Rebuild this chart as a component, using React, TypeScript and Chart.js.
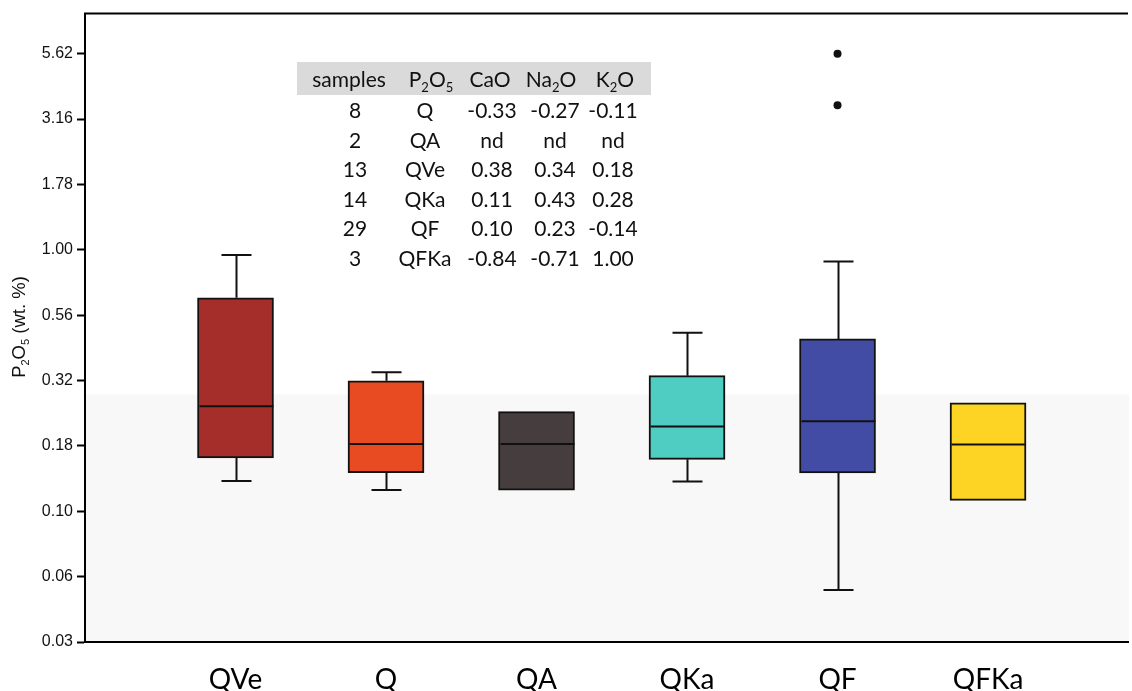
import React, { useEffect, useRef } from 'react';
import { Chart, registerables } from 'chart.js';

Chart.register(...registerables);

// ---------- chart data ----------
const categories = ['QVe', 'Q', 'QA', 'QKa', 'QF', 'QFKa'];
const categoryPositions = [1, 2, 3, 4, 5, 6];
const whiskerLow = [0.1305, 0.1205, 0.1205, 0.13, 0.05, 0.11];
const quartile1 = [0.16, 0.1406, 0.1205, 0.158, 0.14, 0.11];
const medians = [0.252, 0.1806, 0.1806, 0.211, 0.221, 0.18];
const quartile3 = [0.655, 0.3155, 0.2405, 0.33, 0.456, 0.26];
const whiskerHigh = [0.955, 0.34, 0.2405, 0.481, 0.901, 0.26];
const boxColors = ['#a52e2b', '#e84b22', '#463d3e', '#4fcdc3', '#424ca5', '#fed424'];
const outlierPositions = [5, 5];
const outlierValues = [5.62, 3.57];
const shadeThreshold = 0.28;

const yTickValues = [0.03162, 0.05623, 0.1, 0.1778, 0.3162, 0.5623, 1, 1.778, 3.162, 5.623];
const yTickLabels = ['0.03', '0.06', '0.10', '0.18', '0.32', '0.56', '1.00', '1.78', '3.16', '5.62'];
const yMin = 0.03162;
const yMax = 8;
const xMin = 0;
const xMax = 6.93;

// ---------- table data ----------
const sampleCounts = ['8', '2', '13', '14', '29', '3'];
const groupNames = ['Q', 'QA', 'QVe', 'QKa', 'QF', 'QFKa'];
const caoCorr = ['-0.33', 'nd', '0.38', '0.11', '0.10', '-0.84'];
const na2oCorr = ['-0.27', 'nd', '0.34', '0.43', '0.23', '-0.71'];
const k2oCorr = ['-0.11', 'nd', '0.18', '0.28', '-0.14', '1.00'];

// ---------- layout ----------
const W = 1132;
const H = 691;
const BOX_W = 76;
const CAP_W = 30;
const TABLE_FONT = 'Lato, "Open Sans", sans-serif';
const rowCenters = [355, 425, 492, 555, 613];
const headerCenters = [349, 431, 490, 551, 615];
const headerTop = 64;
const rowTop0 = 95;
const rowStep = 29.5;

const boxPlugin = {
  id: 'boxExtras',
  beforeDatasetsDraw(chart: any) {
    const { ctx, chartArea, scales } = chart;
    const y = scales.y;
    const yt = y.getPixelForValue(shadeThreshold);
    ctx.save();
    ctx.fillStyle = '#f8f8f8';
    ctx.fillRect(chartArea.left + 1, yt, chartArea.right - chartArea.left, chartArea.bottom - yt - 1);
    ctx.restore();
  },
  afterDatasetsDraw(chart: any) {
    const { ctx, chartArea, scales } = chart;
    const x = scales.x;
    const y = scales.y;
    ctx.save();
    ctx.strokeStyle = '#111';
    ctx.lineWidth = 2;
    categoryPositions.forEach((pos, i) => {
      const cx = Math.round(x.getPixelForValue(pos)) + 0.5;
      const yMed = y.getPixelForValue(medians[i]);
      const yQ1 = y.getPixelForValue(quartile1[i]);
      const yQ3 = y.getPixelForValue(quartile3[i]);
      const yLo = y.getPixelForValue(whiskerLow[i]);
      const yHi = y.getPixelForValue(whiskerHigh[i]);
      ctx.beginPath();
      ctx.moveTo(cx - BOX_W / 2 + 1, yMed);
      ctx.lineTo(cx + BOX_W / 2 - 1, yMed);
      ctx.stroke();
      if (Math.abs(yHi - yQ3) > 0.5) {
        ctx.beginPath();
        ctx.moveTo(cx, yQ3);
        ctx.lineTo(cx, yHi);
        ctx.moveTo(cx - CAP_W / 2, yHi);
        ctx.lineTo(cx + CAP_W / 2, yHi);
        ctx.stroke();
      }
      if (Math.abs(yLo - yQ1) > 0.5) {
        ctx.beginPath();
        ctx.moveTo(cx, yQ1);
        ctx.lineTo(cx, yLo);
        ctx.moveTo(cx - CAP_W / 2, yLo);
        ctx.lineTo(cx + CAP_W / 2, yLo);
        ctx.stroke();
      }
    });
    // top frame line
    ctx.strokeStyle = '#000';
    ctx.beginPath();
    ctx.moveTo(chartArea.left - 1, chartArea.top);
    ctx.lineTo(chartArea.right, chartArea.top);
    ctx.stroke();
    ctx.restore();
  },
};

function Sub({ children }: { children: React.ReactNode }) {
  return (
    <span style={{ fontSize: 13, position: 'relative', top: 5 }}>{children}</span>
  );
}

function Cell({ cx, top, children }: { cx: number; top: number; children: React.ReactNode }) {
  return (
    <div
      style={{
        position: 'absolute',
        left: cx,
        top,
        transform: 'translateX(-50%)',
        whiteSpace: 'nowrap',
        lineHeight: '30px',
        height: 30,
      }}
    >
      {children}
    </div>
  );
}

export default function App() {
  const canvasRef = useRef<HTMLCanvasElement | null>(null);

  useEffect(() => {
    document.body.style.margin = '0';
    const canvas = canvasRef.current;
    if (!canvas) return;
    const chart = new Chart(canvas, {
      type: 'bar',
      data: {
        datasets: [
          {
            type: 'bar',
            data: categoryPositions.map((p, i) => ({ x: p, y: [quartile1[i], quartile3[i]] })) as any,
            backgroundColor: boxColors,
            borderColor: '#111',
            borderWidth: 2,
            borderSkipped: false,
            barThickness: BOX_W,
          } as any,
          {
            type: 'scatter',
            data: outlierPositions.map((p, i) => ({ x: p, y: outlierValues[i] })),
            pointRadius: 4,
            pointBackgroundColor: '#111',
            pointBorderWidth: 0,
            showLine: false,
          } as any,
        ],
      },
      options: {
        responsive: false,
        animation: false,
        events: [],
        layout: { padding: { top: 12, right: 0, bottom: 0, left: 0 } },
        plugins: {
          legend: { display: false },
          tooltip: { enabled: false },
        },
        scales: {
          x: {
            type: 'linear',
            min: xMin,
            max: xMax,
            offset: false,
            grid: { display: true, drawOnChartArea: false, drawTicks: false },
            border: { display: true, color: '#000', width: 2 },
            afterBuildTicks: (s: any) => {
              s.ticks = categoryPositions.map((v) => ({ value: v }));
            },
            afterFit: (s: any) => {
              s.height = 49;
            },
            ticks: {
              autoSkip: false,
              maxRotation: 0,
              padding: 21,
              color: '#000',
              font: { family: 'Lato, "Open Sans", sans-serif', size: 28 },
              callback: (v: any) => {
                const idx = categoryPositions.indexOf(Number(v));
                return idx >= 0 ? categories[idx] : '';
              },
            },
          },
          y: {
            type: 'logarithmic',
            min: yMin,
            max: yMax,
            grid: {
              display: true,
              drawOnChartArea: false,
              drawTicks: true,
              tickLength: 8,
              tickWidth: 2,
              tickColor: '#000',
            },
            border: { display: true, color: '#000', width: 2 },
            afterBuildTicks: (s: any) => {
              s.ticks = yTickValues.map((v) => ({ value: v }));
            },
            afterFit: (s: any) => {
              s.width = 85;
            },
            ticks: {
              autoSkip: false,
              padding: 4,
              color: '#111',
              font: { family: '"Liberation Sans", Arial, sans-serif', size: 16 },
              callback: (_v: any, index: number) => yTickLabels[index],
            },
          },
        },
      },
      plugins: [boxPlugin],
    } as any);
    return () => chart.destroy();
  }, []);

  const rows = sampleCounts.map((_, i) => [sampleCounts[i], groupNames[i], caoCorr[i], na2oCorr[i], k2oCorr[i]]);

  return (
    <div style={{ position: 'absolute', left: 0, top: 0, width: W, height: H, overflow: 'hidden', background: '#fff' }}>
      <canvas ref={canvasRef} width={W} height={H} style={{ width: W, height: H, display: 'block' }} />
      <div
        style={{
          position: 'absolute',
          left: 19,
          top: 327,
          transform: 'translate(-50%, -50%) rotate(-90deg)',
          whiteSpace: 'nowrap',
          fontFamily: '"Liberation Sans", Arial, sans-serif',
          fontSize: 18.5,
          color: '#111',
        }}
      >
        P<span style={{ fontSize: 11, position: 'relative', top: 4 }}>2</span>O
        <span style={{ fontSize: 11, position: 'relative', top: 4 }}>5</span> (wt. %)
      </div>
      <div style={{ position: 'absolute', left: 0, top: 0, width: W, height: H, fontFamily: TABLE_FONT, fontSize: 21, color: '#111', pointerEvents: 'none' }}>
        <div style={{ position: 'absolute', left: 297, top: 62, width: 354, height: 33, background: '#dadada' }} />
        <Cell cx={headerCenters[0]} top={headerTop}>samples</Cell>
        <Cell cx={headerCenters[1]} top={headerTop}>
          P<Sub>2</Sub>O<Sub>5</Sub>
        </Cell>
        <Cell cx={headerCenters[2]} top={headerTop}>CaO</Cell>
        <Cell cx={headerCenters[3]} top={headerTop}>
          Na<Sub>2</Sub>O
        </Cell>
        <Cell cx={headerCenters[4]} top={headerTop}>
          K<Sub>2</Sub>O
        </Cell>
        {rows.map((r, ri) =>
          r.map((txt, ci) => (
            <Cell key={`${ri}-${ci}`} cx={rowCenters[ci]} top={rowTop0 + ri * rowStep}>
              {txt}
            </Cell>
          ))
        )}
      </div>
    </div>
  );
}
